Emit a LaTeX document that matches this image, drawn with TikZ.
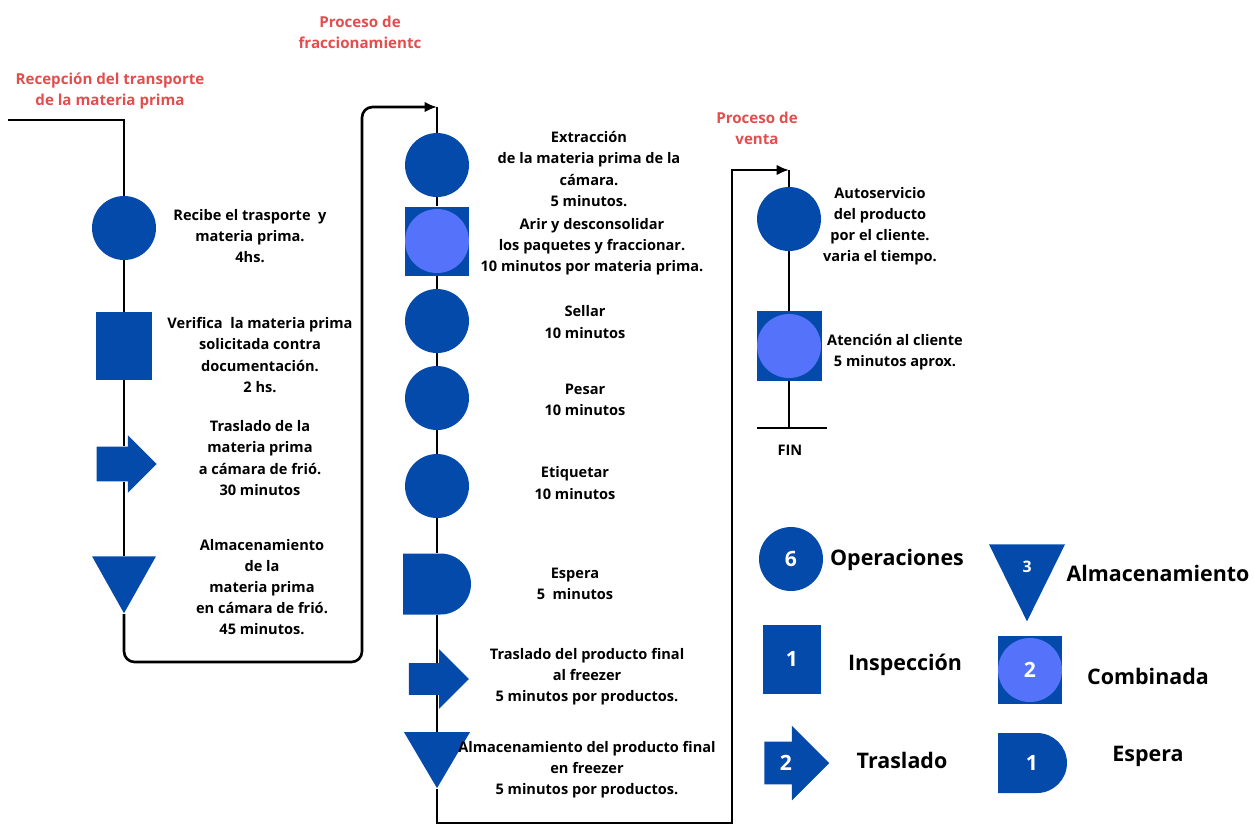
\documentclass[tikz,border=0pt]{standalone}
\usepackage{fontspec}
\setmainfont{Open Sans}
\usepackage{xcolor}
\usepackage{tikz}
\usetikzlibrary{shapes.geometric,shapes.arrows,shapes.misc,arrows.meta}

\definecolor{opblue}{RGB}{4,74,170}
\definecolor{combblue}{RGB}{84,114,250}
\definecolor{titlered}{RGB}{226,78,78}

\begin{document}
\begin{tikzpicture}[x=0.02cm, y=-0.02cm,
    flow/.style={draw=black, line width=1.5pt},
    oper/.style={circle, fill=opblue, minimum size=1.28cm, inner sep=0pt},
    insp/.style={rectangle, fill=opblue, inner sep=0pt},
    combo/.style={rectangle, fill=opblue, inner sep=0pt,
        path picture={\fill[combblue] (path picture bounding box.center) circle (0.64cm);}},
    move/.style={single arrow, fill=opblue, inner xsep=0pt, inner ysep=0.34cm, single arrow head extend=0.23cm},
    store/.style={isosceles triangle, isosceles triangle stretches, shape border rotate=270, fill=opblue, inner sep=0pt},
    delay/.style={rounded rectangle, rounded rectangle left arc=none, fill=opblue, inner sep=0pt},
    desc/.style={align=center, font=\bfseries\fontsize{8.3}{12}\selectfont},
    title/.style={align=center, text=titlered, font=\bfseries\fontsize{8.6}{12}\selectfont},
    key/.style={font=\bfseries\fontsize{12.2}{14}\selectfont},
    num/.style={text=white, font=\bfseries\fontsize{12}{14}\selectfont}]
    \useasboundingbox (0,0) rectangle (1254,826);

    % Titles
    \node[title] (h1) at (110,91) {Recepción del transporte\\de la materia prima};
    \node[title] (h2) at (360,32) {Proceso de\\fraccionamientc};
    \node[title] (h3) at (757,128) {Proceso de\\venta};

    % Reception column
    \node[oper] (r1) at (124,228) {};
    \node[insp, minimum width=1.12cm, minimum height=1.36cm] (r2) at (124,346) {};
    \node[move, minimum height=1.2cm, minimum width=1.14cm] (r3) at (118,464) {};
    \node[store, minimum width=1.28cm, minimum height=1.14cm] (r4) at (124,575) {};

    \node[desc] (t1) at (250,236) {Recibe el trasporte~ y\\materia prima.\\4hs.};
    \node[desc] (t2) at (260,355) {Verifica~ la materia prima\\solicitada contra\\documentación.\\2 hs.};
    \node[desc] (t3) at (260,458) {Traslado de la\\materia prima\\a cámara de frió.\\30 minutos};
    \node[desc] (t4) at (262,587) {Almacenamiento\\de la\\materia prima\\en cámara de frió.\\45 minutos.};

    % Fractioning column
    \node[oper] (f1) at (437,165) {};
    \node[combo, minimum width=1.3cm, minimum height=1.38cm] (f2) at (437,241) {};
    \node[oper] (f3) at (437,321) {};
    \node[oper] (f4) at (437,398) {};
    \node[oper] (f5) at (437,486) {};
    \node[delay, minimum width=1.36cm, minimum height=1.22cm] (f6) at (437,584) {};
    \node[move, minimum height=1.2cm, minimum width=1.18cm, inner ysep=0.31cm, single arrow head extend=0.28cm] (f7) at (431,679) {};
    \node[store, minimum width=1.32cm, minimum height=1.12cm] (f8) at (437,751) {};

    \node[desc] (d1) at (589,169) {Extracción\\de la materia prima de la\\cámara.\\5 minutos.};
    \node[desc] (d2) at (592,247) {Arir y desconsolidar\\los paquetes y fraccionar.\\10 minutos por materia prima.};
    \node[desc] (d3) at (585,322) {Sellar\\10 minutos};
    \node[desc] (d4) at (585,400) {Pesar\\10 minutos};
    \node[desc] (d5) at (575,483) {Etiquetar\\10 minutos};
    \node[desc] (d6) at (575,584) {Espera\\5~ minutos};
    \node[desc] (d7) at (587,677) {Traslado del producto final\\al freezer\\5 minutos por productos.};
    \node[desc] (d8) at (587,770) {Almacenamiento del producto final\\en freezer\\5 minutos por productos.};

    % Sales column
    \node[oper] (v1) at (789,219) {};
    \node[combo, minimum width=1.3cm, minimum height=1.4cm] (v2) at (789,346) {};
    \node[desc] (e1) at (880,226) {Autoservicio\\del producto\\por el cliente.\\varia el tiempo.};
    \node[desc] (e2) at (895,352) {Atención al cliente\\5 minutos aprox.};
    \node[desc] (fin) at (790,450) {FIN};

    % Line corners
    \coordinate (in1) at (8,120);
    \coordinate (low1) at (124,662);
    \coordinate (low2) at (362,662);
    \coordinate (top2) at (362,107);
    \coordinate (turn2) at (437,107);
    \coordinate (low3) at (437,823);
    \coordinate (low4) at (732,823);
    \coordinate (top3) at (732,170);
    \coordinate (turn3) at (789,170);
    \coordinate (end3) at (789,428);
    \coordinate (endl) at (757,428);
    \coordinate (endr) at (827,428);

    % Connectors
    \draw[flow] (in1) -| (r1);
    \draw[flow] (r1) -- (r2);
    \draw[flow] (r2) -- (r2 |- r3.north);
    \draw[flow] (r2 |- r3.south) -- (r4);
    \draw[flow, rounded corners=6pt, -{Latex[length=7pt,width=6pt]}] (r4) -- (low1) -- (low2) -- (top2) -- (turn2);
    \draw[flow] (turn2) -- (f1);
    \draw[flow] (f1) -- (f2);
    \draw[flow] (f2) -- (f3);
    \draw[flow] (f3) -- (f4);
    \draw[flow] (f4) -- (f5);
    \draw[flow] (f5) -- (f6);
    \draw[flow] (f6) -- (f6 |- f7.north);
    \draw[flow] (f6 |- f7.south) -- (f8);
    \draw[flow, -{Latex[length=7pt,width=6pt]}] (f8) -- (low3) -- (low4) -- (top3) -- (turn3);
    \draw[flow] (turn3) -- (v1);
    \draw[flow] (v1) -- (v2);
    \draw[flow] (v2) -- (end3);
    \draw[flow] (endl) -- (endr);

    % Legend
    \node[oper, num] (l1) at (791,559) {6};
    \node[key] (k1) at (897,560) {Operaciones};
    \node[store, minimum width=1.52cm, minimum height=1.54cm] (l2) at (1027,568) {};
    \node[text=white, font=\bfseries\fontsize{9}{10}\selectfont] (n2) at (1027,567) {3};
    \node[key] (k2) at (1158,573) {Almacenamiento};
    \node[insp, num, minimum width=1.16cm, minimum height=1.38cm] (l3) at (792,659) {1};
    \node[key] (k3) at (905,665) {Inspección};
    \node[combo, num, minimum width=1.28cm, minimum height=1.36cm] (l4) at (1030,670) {2};
    \node[key] (k4) at (1148,676) {Combinada};
    \node[move, num, minimum height=1.3cm, minimum width=1.48cm, inner ysep=0.27cm, single arrow head extend=0.32cm] (l5) at (786,763) {2};
    \node[key] (k5) at (902,760) {Traslado};
    \node[delay, num, minimum width=1.38cm, minimum height=1.2cm] (l6) at (1032,763) {1};
    \node[key] (k6) at (1148,756) {Espera};
\end{tikzpicture}
\end{document}
